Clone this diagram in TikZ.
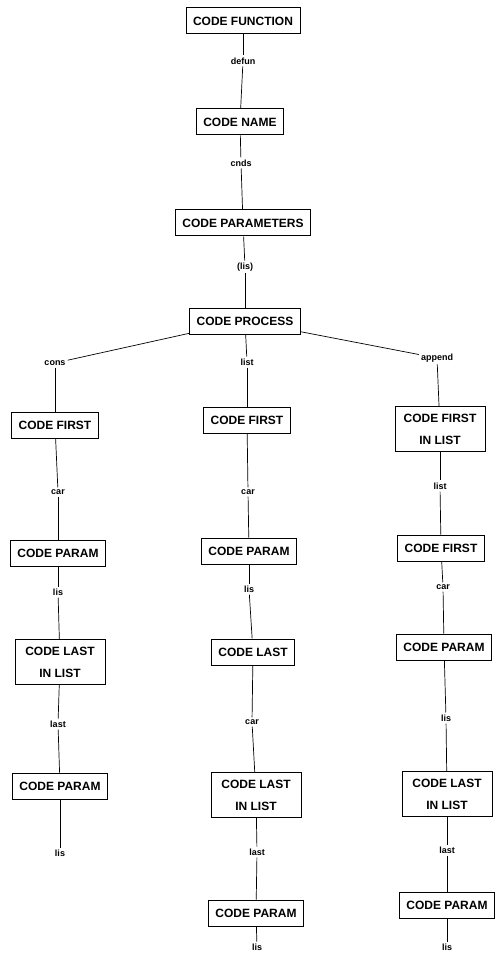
\documentclass[tikz,border=0pt]{standalone}
\usepackage{fontspec}
\setmainfont{Liberation Sans}
\usetikzlibrary{
  positioning,
}

\tikzset{
  codebox/.style={draw, line width=1pt, align=center, inner xsep=7pt, inner ysep=7pt,
    minimum height=26pt, font=\fontsize{12}{22}\selectfont\bfseries},
  widebox/.style={codebox, minimum width=90pt},
  oplabel/.style={inner sep=2pt, font=\fontsize{9}{10}\selectfont\bfseries},
  link/.style={line width=0.7pt},
}

\begin{document}
\begin{tikzpicture}[x=1pt,y=-1pt]
\useasboundingbox (0,0) rectangle (495,957);
% trunk
\node[codebox] (fun) at (243,21) {CODE FUNCTION};
\node[oplabel] (dfn) at (243,61) {defun};
\node[codebox] (nam) at (240,122) {CODE NAME};
\node[oplabel] (cnd) at (241,163) {cnds};
\node[codebox] (par) at (243,223) {CODE PARAMETERS};
\node[oplabel] (lis) at (245,267) {(lis)};
\node[codebox] (prc) at (245,321) {CODE PROCESS};
\node[oplabel] (cons) at (55,363) {cons};
\node[oplabel] (lst) at (247,362) {list};
\node[oplabel] (app) at (437,358) {append};
% left branch
\node[codebox] (a1) at (55,425) {CODE FIRST};
\node[oplabel] (a2) at (58,492) {car};
\node[codebox] (a3) at (58,553) {CODE PARAM};
\node[oplabel] (a4) at (58,592) {lis};
\node[widebox] (a5) at (60,662) {CODE LAST\\IN LIST};
\node[oplabel] (a6) at (58,724) {last};
\node[codebox] (a7) at (60,786) {CODE PARAM};
\node[oplabel] (a8) at (60,853) {lis};
% middle branch
\node[codebox] (b1) at (247,420) {CODE FIRST};
\node[oplabel] (b2) at (248,492) {car};
\node[codebox] (b3) at (249,551) {CODE PARAM};
\node[oplabel] (b4) at (249,589) {lis};
\node[codebox] (b5) at (253,652) {CODE LAST};
\node[oplabel] (b6) at (252,722) {car};
\node[widebox] (b7) at (256,795) {CODE LAST\\IN LIST};
\node[oplabel] (b8) at (257,852) {last};
\node[codebox] (b9) at (256,913) {CODE PARAM};
\node[oplabel] (b10) at (257,947) {lis};
% right branch
\node[widebox] (c1) at (440,429) {CODE FIRST\\IN LIST};
\node[oplabel] (c2) at (440,486) {list};
\node[codebox] (c3) at (441,548) {CODE FIRST};
\node[oplabel] (c4) at (443,587) {car};
\node[codebox] (c5) at (444,647) {CODE PARAM};
\node[oplabel] (c6) at (446,718) {lis};
\node[widebox] (c7) at (447,794) {CODE LAST\\IN LIST};
\node[oplabel] (c8) at (447,850) {last};
\node[codebox] (c9) at (447,905) {CODE PARAM};
\node[oplabel] (c10) at (447,947) {lis};
% connectors
\foreach \from/\to in {fun/dfn, dfn/nam, nam/cnd, cnd/par, par/lis, lis/prc,
    prc/cons, prc/lst, prc/app,
    cons/a1, a1/a2, a2/a3, a3/a4, a4/a5, a5/a6, a6/a7, a7/a8,
    lst/b1, b1/b2, b2/b3, b3/b4, b4/b5, b5/b6, b6/b7, b7/b8, b8/b9, b9/b10,
    app/c1, c1/c2, c2/c3, c3/c4, c4/c5, c5/c6, c6/c7, c7/c8, c8/c9, c9/c10}
  \draw[link] (\from) -- (\to);
\end{tikzpicture}
\end{document}
